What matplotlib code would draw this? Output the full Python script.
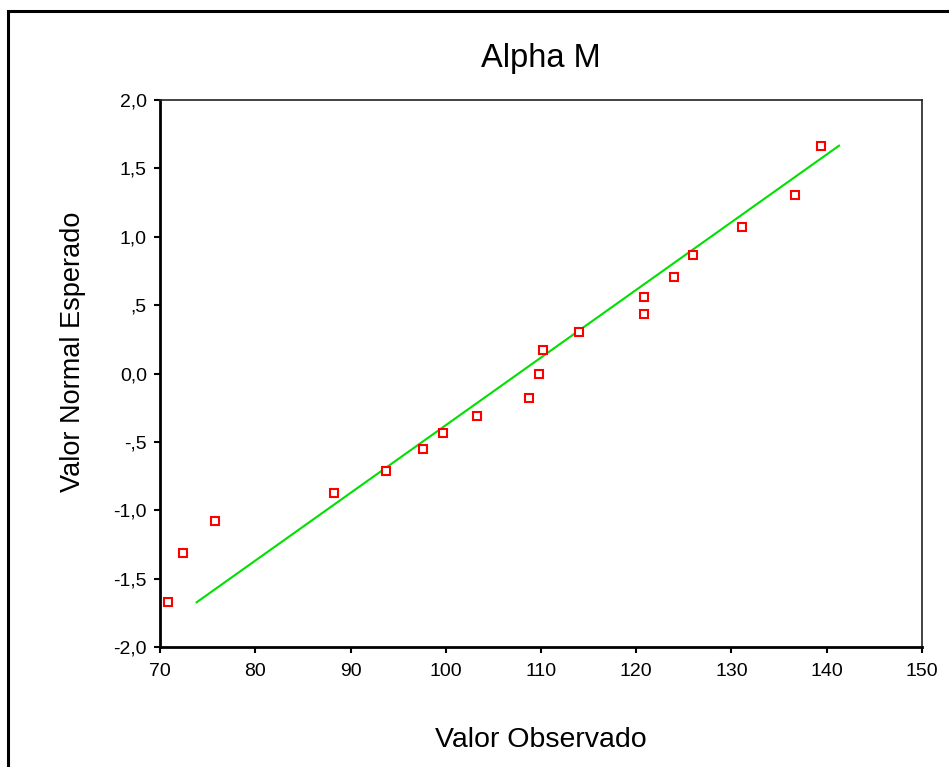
import matplotlib
matplotlib.use("Agg")
import matplotlib.pyplot as plt
from matplotlib.patches import Rectangle

plt.rcParams['font.family'] = ['Liberation Sans', 'DejaVu Sans']

# observed values vs expected normal values
observado = [70.8, 72.45, 75.8, 88.3, 93.7, 97.6, 99.75, 103.3, 108.7, 109.8,
             110.2, 113.96, 120.8, 120.8, 123.96, 126.0, 131.07, 136.7, 139.4]
esperado = [-1.673, -1.310, -1.079, -0.876, -0.713, -0.552, -0.437, -0.308, -0.176, -0.004,
            0.172, 0.301, 0.433, 0.562, 0.708, 0.869, 1.071, 1.303, 1.666]

# reference line endpoints
linea_x = [73.85, 141.29]
linea_y = [-1.673, 1.666]

xticks = [70, 80, 90, 100, 110, 120, 130, 140, 150]
yticks = [-2.0, -1.5, -1.0, -0.5, 0.0, 0.5, 1.0, 1.5, 2.0]
ylabels = ["-2,0", "-1,5", "-1,0", "-,5", "0,0", ",5", "1,0", "1,5", "2,0"]

W, H = 949, 767
fig = plt.figure(figsize=(W / 100, H / 100), dpi=100)

# outer frame
fig.patches.append(Rectangle((8 / W, -0.05), 1.1, 1 - 11 / H + 0.05, transform=fig.transFigure,
                             fill=False, edgecolor="black", linewidth=2.2))

ax = fig.add_axes([160 / W, 1 - 647 / H, (922 - 160) / W, (647 - 100) / H])
ax.plot(linea_x, linea_y, color="#00e000", linewidth=1.5, zorder=2)
ax.plot(observado, esperado, linestyle="none", marker="s", markersize=6,
        markerfacecolor="white", markeredgecolor="#ff0000", markeredgewidth=1.5, zorder=3)

ax.set_xlim(70, 150)
ax.set_ylim(-2, 2)
ax.set_xticks(xticks)
ax.set_xticklabels([str(v) for v in xticks])
ax.set_yticks(yticks)
ax.set_yticklabels(ylabels)
ax.tick_params(direction="out", length=4.5, width=1.5, labelsize=14, color="black")
ax.tick_params(axis="x", pad=7)
ax.tick_params(axis="y", pad=5)

for s in ["left", "bottom"]:
    ax.spines[s].set_linewidth(2.0)
for s in ["top", "right"]:
    ax.spines[s].set_linewidth(1.2)
    ax.spines[s].set_color("#222222")

fig.text(541 / W, 1 - 67.3 / H, "Alpha M", fontsize=23.5, ha="center", va="baseline")
fig.text(541 / W, 1 - 746.7 / H, "Valor Observado", fontsize=20.5, ha="center", va="baseline")
fig.text(73 / W, 1 - 352 / H, "Valor Normal Esperado", fontsize=19.5, rotation=90,
         ha="center", va="center")

fig.savefig("out.png", dpi=100)
plt.close(fig)
